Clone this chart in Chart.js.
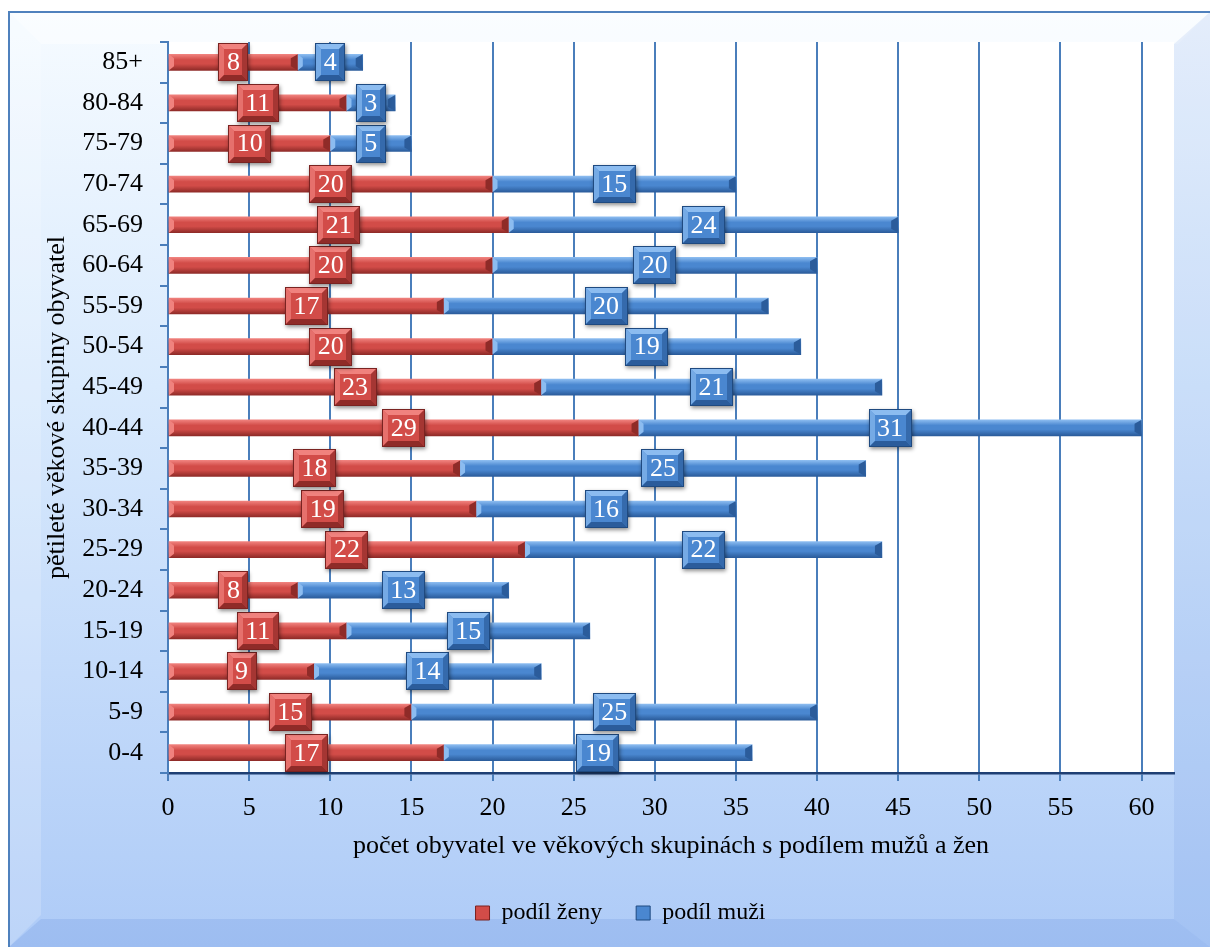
<!DOCTYPE html>
<html>
<head>
<meta charset="utf-8">
<script src="https://cdn.jsdelivr.net/npm/chart.js@4"></script>
<style>
  html, body { margin: 0; padding: 0; background: #fff; }
  #wrap { width: 1210px; height: 947px; }
</style>
</head>
<body>
<div id="wrap"><canvas id="pyramid" width="1210" height="947"></canvas></div>
<script>
// age groups, bottom to top
const ageGroups = ['0-4', '5-9', '10-14', '15-19', '20-24', '25-29', '30-34', '35-39', '40-44',
    '45-49', '50-54', '55-59', '60-64', '65-69', '70-74', '75-79', '80-84', '85+'];
const women = [17, 15, 9, 11, 8, 22, 19, 18, 29, 23, 20, 17, 20, 21, 20, 10, 11, 8];
const men = [19, 25, 14, 15, 13, 22, 16, 25, 31, 21, 19, 20, 20, 24, 15, 5, 3, 4];
const xMax = 62;
const xStep = 5;

const serif = '"Liberation Serif", "Times New Roman", serif';

const red = {light: '#f0827e', mid: '#d24c48', dark: '#8f2b28', edge: '#7a2321'};
const blue = {light: '#8cbcf0', mid: '#4a87d0', dark: '#2b5c9b', edge: '#1f4a80'};

function barFill(c) {
    return (context) => {
        const chart = context.chart;
        if (!chart.chartArea || context.type !== 'data') return c.mid;
        const yc = chart.scales.y.getPixelForValue(context.dataIndex);
        const g = chart.ctx.createLinearGradient(0, yc - 8, 0, yc + 8);
        g.addColorStop(0, c.light);
        g.addColorStop(0.35, c.mid);
        g.addColorStop(0.6, c.mid);
        g.addColorStop(1, c.dark);
        return g;
    };
}

// background frame + white plot area
const framePlugin = {
    id: 'frame',
    beforeDraw(chart) {
        const {ctx, width, height, chartArea} = chart;
        ctx.save();
        ctx.fillStyle = '#fff';
        ctx.fillRect(0, 0, width, height);
        const x0 = 9, y0 = 12, bw = 32;
        const g = ctx.createLinearGradient(0, y0, 0, height);
        g.addColorStop(0, '#f6fbff');
        g.addColorStop(0.4, '#d9eafd');
        g.addColorStop(1, '#aecbf7');
        ctx.fillStyle = g;
        ctx.fillRect(x0, y0, width - x0, height - y0);
        // bevel edges
        ctx.fillStyle = 'rgba(255,255,255,0.45)';
        ctx.beginPath();
        ctx.moveTo(x0, y0); ctx.lineTo(width, y0); ctx.lineTo(width - bw, y0 + bw); ctx.lineTo(x0 + bw, y0 + bw);
        ctx.fill();
        ctx.fillStyle = 'rgba(255,255,255,0.18)';
        ctx.beginPath();
        ctx.moveTo(x0, y0); ctx.lineTo(x0 + bw, y0 + bw); ctx.lineTo(x0 + bw, height - bw); ctx.lineTo(x0, height);
        ctx.fill();
        ctx.fillStyle = 'rgba(70,120,215,0.10)';
        ctx.beginPath();
        ctx.moveTo(width, y0); ctx.lineTo(width, height); ctx.lineTo(width - bw - 4, height - bw + 4); ctx.lineTo(width - bw - 4, y0 + bw);
        ctx.fill();
        ctx.fillStyle = 'rgba(60,105,205,0.14)';
        ctx.beginPath();
        ctx.moveTo(x0, height); ctx.lineTo(width, height); ctx.lineTo(width - bw - 4, height - bw + 4); ctx.lineTo(x0 + bw, height - bw + 4);
        ctx.fill();
        ctx.strokeStyle = '#4f81bd';
        ctx.lineWidth = 2;
        ctx.beginPath();
        ctx.moveTo(x0, height); ctx.lineTo(x0, y0); ctx.lineTo(width, y0);
        ctx.stroke();
        ctx.fillStyle = '#fff';
        ctx.fillRect(chartArea.left, chartArea.top, chartArea.right - chartArea.left, chartArea.bottom - chartArea.top);
        ctx.restore();
    }
};

function bevelBox(ctx, x, y, w, h, c, b) {
    ctx.save();
    ctx.shadowColor = 'rgba(0,0,0,0.45)';
    ctx.shadowBlur = 4;
    ctx.shadowOffsetX = 1;
    ctx.shadowOffsetY = 2;
    ctx.fillStyle = c.mid;
    ctx.fillRect(x, y, w, h);
    ctx.restore();
    const poly = (pts, col) => {
        ctx.fillStyle = col;
        ctx.beginPath();
        ctx.moveTo(pts[0], pts[1]);
        for (let i = 2; i < pts.length; i += 2) ctx.lineTo(pts[i], pts[i + 1]);
        ctx.closePath();
        ctx.fill();
    };
    poly([x, y, x + w, y, x + w - b, y + b, x + b, y + b], c.light);
    poly([x, y, x + b, y + b, x + b, y + h - b, x, y + h], c.light + 'aa');
    poly([x + w, y, x + w, y + h, x + w - b, y + h - b, x + w - b, y + b], c.dark + 'aa');
    poly([x, y + h, x + w, y + h, x + w - b, y + h - b, x + b, y + h - b], c.dark);
    ctx.strokeStyle = c.edge;
    ctx.lineWidth = 1;
    ctx.strokeRect(x + 0.5, y + 0.5, w - 1, h - 1);
}

// bar end bevels and value boxes
const labelPlugin = {
    id: 'valueBoxes',
    afterDatasetsDraw(chart) {
        const ctx = chart.ctx;
        const palettes = [red, blue];
        ctx.save();
        chart.data.datasets.forEach((ds, di) => {
            const c = palettes[di];
            chart.getDatasetMeta(di).data.forEach((el) => {
                const {x, base, y, height} = el.getProps(['x', 'base', 'y', 'height'], true);
                const t = y - height / 2, b = y + height / 2;
                ctx.fillStyle = c.dark;
                ctx.beginPath();
                ctx.moveTo(x - 7, t + 4); ctx.lineTo(x, t); ctx.lineTo(x, b); ctx.lineTo(x - 7, b - 4);
                ctx.closePath();
                ctx.fill();
                ctx.fillStyle = c.light;
                ctx.beginPath();
                ctx.moveTo(base, t); ctx.lineTo(base + 5, t + 4); ctx.lineTo(base + 5, b - 4); ctx.lineTo(base, b);
                ctx.closePath();
                ctx.fill();
            });
        });
        ctx.font = '26px ' + serif;
        ctx.textAlign = 'center';
        ctx.textBaseline = 'middle';
        chart.data.datasets.forEach((ds, di) => {
            const c = palettes[di];
            chart.getDatasetMeta(di).data.forEach((el, i) => {
                const {x, base, y} = el.getProps(['x', 'base', 'y'], true);
                const text = String(ds.data[i]);
                const tw = ctx.measureText(text).width;
                const w = Math.round(tw + 17), h = 38;
                const cx = (x + base) / 2;
                bevelBox(ctx, Math.round(cx - w / 2), Math.round(y - h / 2), w, h, c, 6);
                ctx.fillStyle = '#fff';
                ctx.fillText(text, cx, y + 1);
            });
        });
        ctx.restore();
    }
};

const pyramidCtx = document.getElementById('pyramid').getContext('2d');
const pyramid = new Chart(pyramidCtx, {
    type: 'bar',
    data: {
        labels: ageGroups,
        datasets: [
            {label: 'podíl ženy', data: women, backgroundColor: barFill(red), borderWidth: 0, barThickness: 16},
            {label: 'podíl muži', data: men, backgroundColor: barFill(blue), borderWidth: 0, barThickness: 16}
        ]
    },
    options: {
        responsive: false,
        animation: false,
        indexAxis: 'y',
        layout: {padding: {left: 67, top: 42, right: 36, bottom: 12}},
        scales: {
            x: {
                stacked: true,
                min: 0,
                max: xMax,
                ticks: {stepSize: xStep, includeBounds: false, color: '#000', font: {family: serif, size: 26}, padding: 12},
                grid: {color: '#4a7ebb', lineWidth: 2, tickLength: 8},
                border: {color: '#1f3f73', width: 2.5},
                title: {display: true, text: 'počet obyvatel ve věkových skupinách s podílem mužů a žen',
                    color: '#000', font: {family: serif, size: 26}, padding: {top: 0, bottom: 5}},
                afterFit: (scale) => { scale.height = 94; }
            },
            y: {
                stacked: true,
                reverse: true,
                ticks: {color: '#000', font: {family: serif, size: 26}, padding: 17},
                grid: {drawOnChartArea: false, color: '#4a7ebb', lineWidth: 2, tickLength: 8},
                border: {color: '#4a7ebb', width: 2},
                title: {display: true, text: 'pětileté věkové skupiny obyvatel',
                    color: '#000', font: {family: serif, size: 26}, padding: {top: -25, bottom: 0}},
                afterFit: (scale) => { scale.width = 101; }
            }
        },
        plugins: {
            legend: {
                position: 'bottom',
                labels: {
                    color: '#000',
                    font: {family: serif, size: 24},
                    boxWidth: 14,
                    boxHeight: 14,
                    padding: 34,
                    generateLabels: () => [
                        {text: 'podíl ženy', fillStyle: red.mid, strokeStyle: red.edge, lineWidth: 1, datasetIndex: 0},
                        {text: 'podíl muži', fillStyle: blue.mid, strokeStyle: blue.edge, lineWidth: 1, datasetIndex: 1}
                    ]
                }
            },
            tooltip: {enabled: false}
        }
    },
    plugins: [framePlugin, labelPlugin]
});
</script>
</body>
</html>
